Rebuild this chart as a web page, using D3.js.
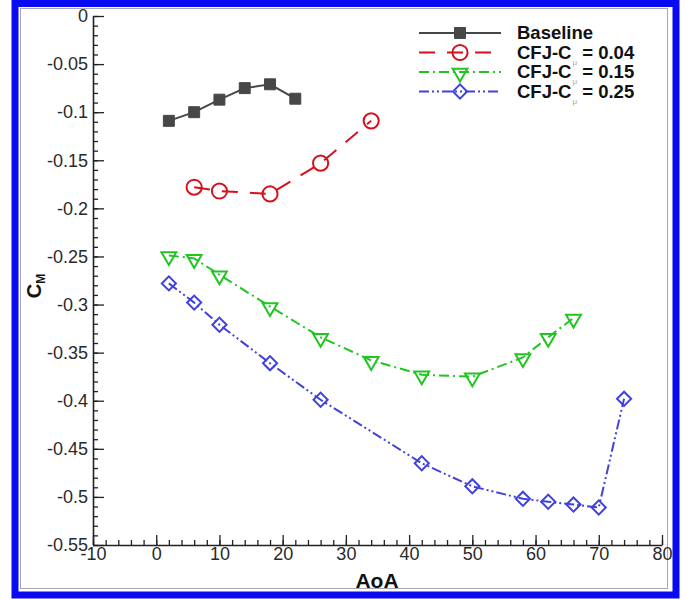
<!DOCTYPE html>
<html>
<head>
<meta charset="utf-8">
<title>CM vs AoA</title>
<script src="https://d3js.org/d3.v7.min.js"></script>
<style>
  body { margin: 0; background: #fff; }
  svg { display: block; font-family: "Liberation Sans", Arial, sans-serif; }
</style>
</head>
<body>
<script>
// pitching moment data, one array pair per case
var baseAoA = [2, 6, 10, 14, 18, 22];
var baseCM  = [-0.109, -0.100, -0.087, -0.075, -0.071, -0.086];

var cfj04AoA = [6, 10, 18, 26, 34];
var cfj04CM  = [-0.178, -0.182, -0.185, -0.153, -0.109];

var cfj15AoA = [2, 6, 10, 18, 26, 34, 42, 50, 58, 62, 66];
var cfj15CM  = [-0.249, -0.252, -0.269, -0.302, -0.334, -0.358, -0.373, -0.375, -0.355, -0.334, -0.314];

var cfj25AoA = [2, 6, 10, 18, 26, 42, 50, 58, 62, 66, 70, 74];
var cfj25CM  = [-0.278, -0.298, -0.321, -0.361, -0.399, -0.465, -0.489, -0.502, -0.505, -0.508, -0.511, -0.398];

var xTicks = [-10, 0, 10, 20, 30, 40, 50, 60, 70, 80];
var yTicks = [0, -0.05, -0.1, -0.15, -0.2, -0.25, -0.3, -0.35, -0.4, -0.45, -0.5, -0.55];

var legendLabels = ["Baseline", "CFJ-C|μ| = 0.04", "CFJ-C|μ| = 0.15", "CFJ-C|μ| = 0.25"];

var w = 687, h = 599;

var svg = d3.select("body").append("svg")
    .attr("width", w)
    .attr("height", h);

// frame: blue border plus thin gray inner line
svg.append("rect")
    .attr("x", 15).attr("y", 3.5)
    .attr("width", 661).attr("height", 591.5)
    .attr("fill", "none")
    .attr("stroke", "#0b0bf2")
    .attr("stroke-width", 7);
svg.append("rect")
    .attr("x", 20.5).attr("y", 8.5)
    .attr("width", 647).attr("height", 580)
    .attr("fill", "none")
    .attr("stroke", "#a8a8a8")
    .attr("stroke-width", 1);

var x = d3.scaleLinear().domain([-10, 80]).range([93, 662]);
var y = d3.scaleLinear().domain([-0.55, 0]).range([545, 16]);

var fmt = function(d) { return String(+d.toFixed(2)); };

// minor ticks first, majors on top
svg.append("g")
    .attr("transform", "translate(0,545)")
    .call(d3.axisBottom(x).tickValues(d3.range(-10, 81, 2)).tickSize(-5).tickSizeOuter(0).tickFormat(""))
    .call(function(g) { g.select(".domain").remove(); });
svg.append("g")
    .attr("transform", "translate(93,0)")
    .call(d3.axisLeft(y).tickValues(d3.range(0, 56).map(function(i) { return -i / 100; })).tickSize(-5).tickSizeOuter(0).tickFormat(""))
    .call(function(g) { g.select(".domain").remove(); });

var xAxis = svg.append("g")
    .attr("transform", "translate(0,545)")
    .call(d3.axisBottom(x).tickValues(xTicks).tickSize(-10).tickSizeOuter(0).tickPadding(2).tickFormat(fmt));
var yAxis = svg.append("g")
    .attr("transform", "translate(93,0)")
    .call(d3.axisLeft(y).tickValues(yTicks).tickSize(-11).tickSizeOuter(0).tickPadding(5).tickFormat(fmt));

svg.selectAll(".tick line").attr("stroke", "#222").attr("stroke-width", 1.3);
svg.selectAll(".domain").attr("stroke", "#222").attr("stroke-width", 1.6);
xAxis.attr("font-size", 18).selectAll(".tick text").attr("fill", "#2a2a2a");
yAxis.attr("font-size", 18).selectAll(".tick text").attr("fill", "#2a2a2a");
svg.selectAll(".tick text").style("font-size", "18px")
    .style("font-family", "'Liberation Sans', Arial, sans-serif");

// axis titles
svg.append("text")
    .attr("x", 377).attr("y", 588)
    .attr("text-anchor", "middle")
    .style("font-size", "21px")
    .attr("font-weight", "bold")
    .attr("fill", "#111")
    .text("AoA");

var yt = svg.append("text")
    .attr("transform", "translate(41,286) rotate(-90)")
    .attr("text-anchor", "middle")
    .style("font-size", "20px")
    .attr("font-weight", "bold")
    .attr("fill", "#111");
yt.append("tspan").text("C");
yt.append("tspan").style("font-size", "12px").attr("dy", 4).text("M");

// marker shapes
var symSquare = d3.symbol().type(d3.symbolSquare).size(120);
var symCircle = d3.symbol().type(d3.symbolCircle).size(180);
var symTri = d3.symbol().type(d3.symbolTriangle).size(95);
var symDiamond = d3.symbol().type(d3.symbolSquare).size(100);

var series = [
  { xs: baseAoA, ys: baseCM, color: "#474747", dash: null, marker: "square" },
  { xs: cfj04AoA, ys: cfj04CM, color: "#d4111c", dash: "16,12", marker: "circle" },
  { xs: cfj15AoA, ys: cfj15CM, color: "#22c422", dash: "10,4,2,4", marker: "tri" },
  { xs: cfj25AoA, ys: cfj25CM, color: "#4141dc", dash: "10,3,2,3,2,3", marker: "diamond" }
];

function drawMarker(g, kind, color, px, py) {
  if (kind === "square") {
    g.append("path").attr("d", symSquare())
      .attr("transform", "translate(" + px + "," + py + ")")
      .attr("fill", color).attr("stroke", color).attr("stroke-width", 1);
  } else if (kind === "circle") {
    g.append("path").attr("d", symCircle())
      .attr("transform", "translate(" + px + "," + py + ")")
      .attr("fill", "none").attr("stroke", color).attr("stroke-width", 2);
  } else if (kind === "tri") {
    g.append("path").attr("d", symTri())
      .attr("transform", "translate(" + px + "," + (py + 1) + ") rotate(180)")
      .attr("fill", "none").attr("stroke", color).attr("stroke-width", 2);
  } else {
    g.append("path").attr("d", symDiamond())
      .attr("transform", "translate(" + px + "," + py + ") rotate(45)")
      .attr("fill", "none").attr("stroke", color).attr("stroke-width", 2);
  }
}

var line = d3.line()
    .x(function(d) { return x(d[0]); })
    .y(function(d) { return y(d[1]); });

series.forEach(function(s) {
  var pts = s.xs.map(function(v, i) { return [v, s.ys[i]]; });
  var g = svg.append("g");
  g.append("path")
    .attr("d", line(pts))
    .attr("fill", "none")
    .attr("stroke", s.color)
    .attr("stroke-width", 2)
    .attr("stroke-dasharray", s.dash);
  pts.forEach(function(p) { drawMarker(g, s.marker, s.color, x(p[0]), y(p[1])); });
});

// legend
var legend = svg.append("g");
series.forEach(function(s, i) {
  var ly = 33 + i * 19.5;
  legend.append("line")
    .attr("x1", 419).attr("x2", 501)
    .attr("y1", ly).attr("y2", ly)
    .attr("stroke", s.color)
    .attr("stroke-width", 2)
    .attr("stroke-dasharray", s.dash);
  drawMarker(legend, s.marker, s.color, 460, ly);
  var parts = legendLabels[i].split("|");
  var t = legend.append("text")
    .attr("x", 517).attr("y", ly + 6)
    .style("font-size", "18.5px")
    .attr("font-weight", "bold")
    .attr("fill", "#111");
  t.append("tspan").text(parts[0]);
  if (parts.length > 1) {
    t.append("tspan").style("font-size", "8px").attr("font-weight", "normal")
      .attr("fill", "#aaa").attr("dx", 1).attr("dy", 6).text(parts[1]);
    t.append("tspan").attr("dy", -6).text(parts[2]);
  }
});
</script>
</body>
</html>
